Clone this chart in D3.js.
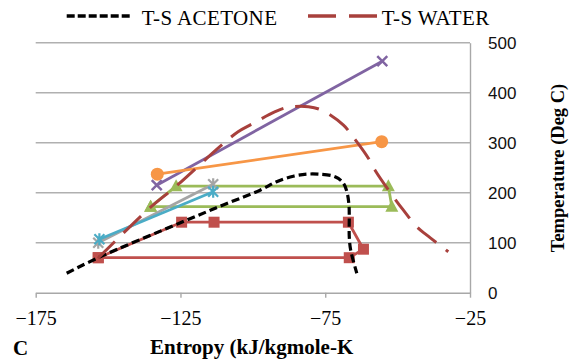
<!DOCTYPE html>
<html>
<head>
<meta charset="utf-8">
<script src="https://cdn.jsdelivr.net/npm/d3@7"></script>
<style>
  html, body { margin: 0; padding: 0; background: #fff; }
  svg { display: block; }
</style>
</head>
<body>
<svg id="chart" width="580" height="362"></svg>
<script>
// Axis ticks
const xTicks = [-175, -125, -75, -25];
const yTicks = [0, 100, 200, 300, 400, 500];

// Saturation domes (entropy kJ/kgmole-K, temperature deg C)
const acetoneS = [-164.3, -153.4, -125, -110, -97.5, -91.8, -86, -81.4, -77.4, -71.6, -68.7, -67.4, -66.8, -66.7, -66.7, -66.2, -64.1];
const acetoneT = [39, 70, 140, 176, 205, 222, 233, 237, 237, 232, 219, 199, 175, 152, 112, 85, 39];
const waterS = [-153.5, -135.3, -126.5, -112, -105.1, -100.4, -92.3, -87.7, -80.8, -76.2, -68.7, -65.3, -60.1, -57.8, -51.5, -48, -43.4, -39.9, -32.5];
const waterT = [69, 171, 213, 289, 322, 337, 362, 371, 372, 365, 335, 311, 269, 245, 192, 165, 132, 115, 82];

// Cycle paths
const redS = [-153.4, -124.6, -113.4, -67, -61.8, -66.7, -153.4];
const redT = [70, 141, 141, 141, 87, 70, 70];
const greenS = [-135.3, -126.5, -53.2, -52, -135.3];
const greenT = [172, 213, 213, 172, 172];
const purpleS = [-133.2, -55.3];
const purpleT = [215, 463];
const grayS = [-153.4, -113.7];
const grayT = [100, 217];
const cyanS = [-153, -113.7];
const cyanT = [107, 202];
const orangeS = [-133, -55.5];
const orangeT = [237, 302];

const serif = "'Liberation Serif', 'Times New Roman', serif";

const svg = d3.select("#chart");
const x = d3.scaleLinear().domain([-175, -25]).range([35.7, 470]);
const y = d3.scaleLinear().domain([0, 500]).range([292.7, 42.7]);

const zip = (s, t) => s.map((v, i) => [v, t[i]]);

// Horizontal gridlines
svg.append("g").selectAll("line")
  .data(yTicks.filter(d => d > 0))
  .join("line")
  .attr("x1", x(-175)).attr("x2", x(-25))
  .attr("y1", d => y(d)).attr("y2", d => y(d))
  .attr("stroke", "#b0b0b0").attr("stroke-width", 1.4);

// Bottom axis
const xAxis = svg.append("g")
  .attr("transform", `translate(0,${y(0)})`)
  .call(d3.axisBottom(x).tickValues(xTicks).tickSize(5).tickSizeOuter(0).tickFormat(d3.format("d")));
xAxis.select(".domain").attr("stroke", "#a8a8a8").attr("stroke-width", 1.4);
xAxis.selectAll(".tick line").attr("stroke", "#a8a8a8").attr("stroke-width", 1.4);
xAxis.selectAll(".tick text")
  .attr("y", 32).attr("dy", 0)
  .attr("font-family", serif)
  .attr("font-size", 20).attr("fill", "#000");

// Right axis
const yAxis = svg.append("g")
  .attr("transform", `translate(${x(-25)},0)`)
  .call(d3.axisRight(y).tickValues(yTicks).tickSize(0).tickPadding(18));
yAxis.select(".domain").attr("stroke", "#a8a8a8").attr("stroke-width", 1.4);
yAxis.selectAll(".tick text")
  .attr("font-family", "'Liberation Sans', Arial, sans-serif")
  .attr("font-size", 17).attr("fill", "#111");

const line = d3.line().x(d => x(d[0])).y(d => y(d[1]));

// Markers
function drawMarkers(g, pts, shape, color) {
  const m = g.append("g");
  pts.forEach(p => {
    const cx = x(p[0]), cy = y(p[1]);
    if (shape === "square") {
      m.append("rect").attr("x", cx - 5.5).attr("y", cy - 5.5).attr("width", 11).attr("height", 11)
        .attr("fill", color);
    } else if (shape === "circle") {
      m.append("circle").attr("cx", cx).attr("cy", cy).attr("r", 6.5).attr("fill", color);
    } else if (shape === "triangle") {
      m.append("path").attr("d", `M${cx},${cy - 7}L${cx + 6.5},${cy + 5}L${cx - 6.5},${cy + 5}Z`)
        .attr("fill", color);
    } else if (shape === "x") {
      m.append("path").attr("d", `M${cx - 5},${cy - 5}L${cx + 5},${cy + 5}M${cx - 5},${cy + 5}L${cx + 5},${cy - 5}`)
        .attr("stroke", color).attr("stroke-width", 2.5);
    } else if (shape === "star") {
      m.append("path").attr("d", `M${cx - 5},${cy - 5}L${cx + 5},${cy + 5}M${cx - 5},${cy + 5}L${cx + 5},${cy - 5}M${cx},${cy - 6}L${cx},${cy + 6}`)
        .attr("stroke", color).attr("stroke-width", 2.2);
    }
  });
}

const cycles = [
  { s: redS, t: redT, color: "#c0504d", shape: "square" },
  { s: greenS, t: greenT, color: "#9bbb59", shape: "triangle" },
  { s: purpleS, t: purpleT, color: "#8064a2", shape: "x" },
  { s: grayS, t: grayT, color: "#a5a5a5", shape: "star" },
  { s: cyanS, t: cyanT, color: "#4bacc6", shape: "star" },
  { s: orangeS, t: orangeT, color: "#f79646", shape: "circle" }
];

const plot = svg.append("g");
cycles.forEach(c => {
  const pts = zip(c.s, c.t);
  plot.append("path").datum(pts).attr("d", line)
    .attr("fill", "none").attr("stroke", c.color).attr("stroke-width", 2.8)
    .attr("stroke-linejoin", "round");
  drawMarkers(plot, pts, c.shape, c.color);
});

// Acetone dome
const curve = d3.line().x(d => x(d[0])).y(d => y(d[1])).curve(d3.curveCatmullRom.alpha(0.5));
plot.append("path").datum(zip(acetoneS, acetoneT)).attr("d", curve)
  .attr("fill", "none").attr("stroke", "#000").attr("stroke-width", 3.2)
  .attr("stroke-dasharray", "8,4");

// Water dome
plot.append("path").datum(zip(waterS, waterT)).attr("d", curve)
  .attr("fill", "none").attr("stroke", "#a8403c").attr("stroke-width", 3)
  .attr("stroke-dasharray", "24,12");

// Legend
const legend = svg.append("g")
  .attr("font-family", serif)
  .attr("font-size", 21);
legend.append("line").attr("x1", 66.7).attr("x2", 131.7).attr("y1", 16).attr("y2", 16)
  .attr("stroke", "#000").attr("stroke-width", 3.6).attr("stroke-dasharray", "8,3");
legend.append("text").attr("x", 141.7).attr("y", 25).attr("letter-spacing", 0.4).text("T-S ACETONE");
legend.append("line").attr("x1", 308).attr("x2", 378).attr("y1", 16).attr("y2", 16)
  .attr("stroke", "#a8403c").attr("stroke-width", 3.4).attr("stroke-dasharray", "28,13");
legend.append("text").attr("x", 381.7).attr("y", 25).attr("letter-spacing", 0.4).text("T-S WATER");

// Axis titles
svg.append("text").attr("x", 13).attr("y", 355)
  .attr("font-family", serif)
  .attr("font-size", 21).attr("font-weight", "bold").text("C");
svg.append("text").attr("x", 150).attr("y", 354)
  .attr("font-family", serif)
  .attr("font-size", 21).attr("font-weight", "bold").text("Entropy (kJ/kgmole-K");
svg.append("text")
  .attr("transform", "translate(558,168) rotate(-90)")
  .attr("text-anchor", "middle").attr("dominant-baseline", "central")
  .attr("font-family", serif)
  .attr("font-size", 18.5).attr("font-weight", "bold").text("Temperature (Deg C)");
</script>
</body>
</html>
